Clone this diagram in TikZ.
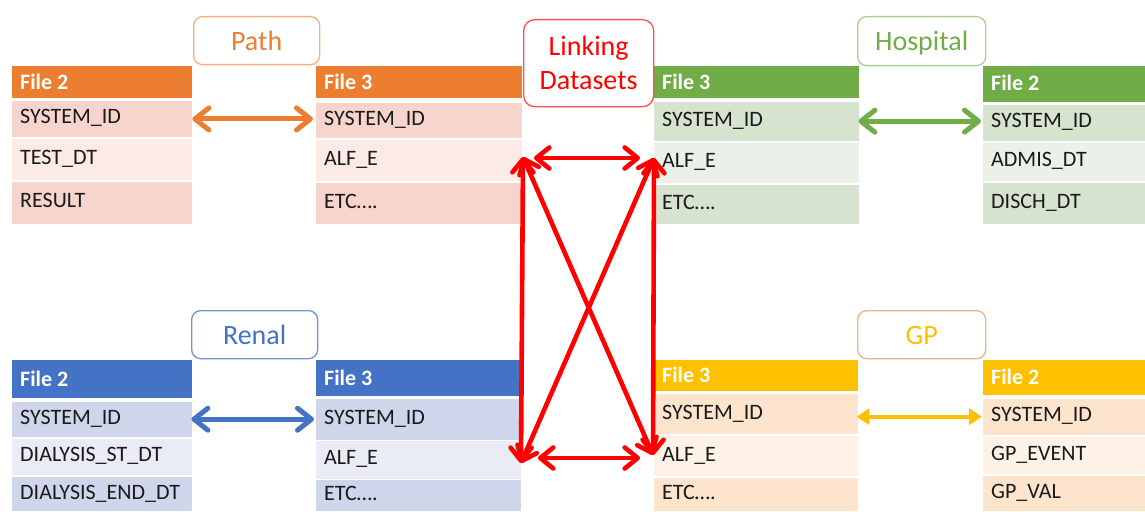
\documentclass[tikz,border=0pt]{standalone}
\usepackage{fontspec}
\setmainfont{Carlito}
\usetikzlibrary{arrows.meta}

\definecolor{orA}{HTML}{ED7D31}
\definecolor{orR1}{HTML}{F8D5CC}
\definecolor{orR2}{HTML}{FBEAE6}
\definecolor{orB}{HTML}{F4B183}
\definecolor{grA}{HTML}{70AD47}
\definecolor{grR1}{HTML}{D6E3CF}
\definecolor{grR2}{HTML}{EBF1E8}
\definecolor{grB}{HTML}{A9D18E}
\definecolor{blA}{HTML}{4472C4}
\definecolor{blR1}{HTML}{CFD5EA}
\definecolor{blR2}{HTML}{E9EBF5}
\definecolor{blB}{HTML}{6F93D3}
\definecolor{ylA}{HTML}{FFC000}
\definecolor{ylR1}{HTML}{FDE4CD}
\definecolor{ylR2}{HTML}{FEF2E7}
\definecolor{rdA}{HTML}{FF0000}
\definecolor{rdB}{HTML}{FF5050}
\definecolor{ink}{HTML}{1A1A1A}

% one filled table cell with its left-aligned text
\newcommand\tcell[8]{%
  \node[cellbg, fill=#2, minimum width=#5pt, minimum height=#6pt] (#1) at (#3,#4) {};
  \node[#7] (#1-txt) at (#1.west) {#8};}

\tikzset{
  cellbg/.style={anchor=north west, inner sep=0pt, draw=none},
  headtxt/.style={anchor=west, inner xsep=8pt, inner ysep=0pt, text=white,
    font=\fontsize{22}{26}\selectfont\bfseries, text height=14pt, text depth=0pt},
  rowtxt/.style={anchor=west, inner xsep=8pt, inner ysep=0pt, text=ink,
    font=\fontsize{22}{26}\selectfont, text height=14pt, text depth=4pt},
  titlebox/.style={anchor=north west, rounded corners=9pt, fill=white, line width=1.3pt,
    inner sep=0pt, font=\fontsize{28}{34}\selectfont, text height=19.5pt, text depth=0pt},
  barb/.style={line width=5pt, line cap=round, line join=round,
    {Straight Barb[length=14pt,width=22pt,line cap=round,line join=round]}-{Straight Barb[length=14pt,width=22pt,line cap=round,line join=round]}},
  tri/.style={line width=4pt,
    {Triangle[length=13pt,width=16pt]}-{Triangle[length=13pt,width=16pt]}},
  redlink/.style={draw=rdA, line width=4.6pt, line cap=round, line join=round,
    {Straight Barb[length=13pt,width=21pt,line cap=round,line join=round]}-{Straight Barb[length=13pt,width=21pt,line cap=round,line join=round]}},
}

\begin{document}
\begin{tikzpicture}[x=1pt,y=-1pt]
\useasboundingbox (0,0) rectangle (1145,511);

% ---------- Path ----------
\tcell{t1h}{orA}{12}{66}{180}{32}{headtxt}{File 2}
\tcell{t1r1}{orR1}{12}{101}{180}{35.5}{rowtxt}{SYSTEM\_ID}
\tcell{t1r2}{orR2}{12}{138.5}{180}{41.5}{rowtxt}{TEST\_DT}
\tcell{t1r3}{orR1}{12}{182}{180}{41.5}{rowtxt}{RESULT}

\tcell{t2h}{orA}{316}{66}{206}{32}{headtxt}{File 3}
\tcell{t2r1}{orR1}{316}{102.5}{206}{35}{rowtxt}{SYSTEM\_ID}
\tcell{t2r2}{orR2}{316}{140}{206}{40.5}{rowtxt}{ALF\_E}
\tcell{t2r3}{orR1}{316}{182.5}{206}{41}{rowtxt}{ETC….}

\node[titlebox, draw=orB, text=orA, minimum width=126pt, minimum height=48pt] (path) at (193,16) {Path};

% ---------- Hospital ----------
\tcell{t3h}{grA}{654}{66}{205}{32}{headtxt}{File 3}
\tcell{t3r1}{grR1}{654}{101.5}{205}{39}{rowtxt}{SYSTEM\_ID}
\tcell{t3r2}{grR2}{654}{142.5}{205}{40}{rowtxt}{ALF\_E}
\tcell{t3r3}{grR1}{654}{184.5}{205}{39}{rowtxt}{ETC….}

\tcell{t4h}{grA}{983}{66}{162}{35.5}{headtxt}{File 2}
\tcell{t4r1}{grR1}{983}{104.5}{162}{36}{rowtxt}{SYSTEM\_ID}
\tcell{t4r2}{grR2}{983}{142.5}{162}{38}{rowtxt}{ADMIS\_DT}
\tcell{t4r3}{grR1}{983}{182.5}{162}{41}{rowtxt}{DISCH\_DT}

\node[titlebox, draw=grB, text=grA, minimum width=128pt, minimum height=49pt] (hosp) at (857,16) {Hospital};

% ---------- Renal ----------
\tcell{t5h}{blA}{12}{360}{180}{38}{headtxt}{File 2}
\tcell{t5r1}{blR1}{12}{401.5}{180}{35}{rowtxt}{SYSTEM\_ID}
\tcell{t5r2}{blR2}{12}{438.5}{180}{36.5}{rowtxt}{DIALYSIS\_ST\_DT}
\tcell{t5r3}{blR1}{12}{477}{180}{34}{rowtxt}{DIALYSIS\_END\_DT}

\tcell{t6h}{blA}{316}{360}{205}{36}{headtxt}{File 3}
\tcell{t6r1}{blR1}{316}{398.5}{205}{41}{rowtxt}{SYSTEM\_ID}
\tcell{t6r2}{blR2}{316}{441}{205}{37.5}{rowtxt}{ALF\_E}
\tcell{t6r3}{blR1}{316}{480}{205}{31}{rowtxt}{ETC….}

\node[titlebox, draw=blB, text=blA, minimum width=126pt, minimum height=48pt] (renal) at (191,310) {Renal};

% ---------- GP ----------
\tcell{t7h}{ylA}{654}{360}{204}{31}{headtxt}{File 3}
\tcell{t7r1}{ylR1}{654}{394}{204}{40}{rowtxt}{SYSTEM\_ID}
\tcell{t7r2}{ylR2}{654}{436}{204}{40}{rowtxt}{ALF\_E}
\tcell{t7r3}{ylR1}{654}{477.5}{204}{33.5}{rowtxt}{ETC….}

\tcell{t8h}{ylA}{983}{360}{162}{35}{headtxt}{File 2}
\tcell{t8r1}{ylR1}{983}{398.5}{162}{36.5}{rowtxt}{SYSTEM\_ID}
\tcell{t8r2}{ylR2}{983}{436.5}{162}{37.5}{rowtxt}{GP\_EVENT}
\tcell{t8r3}{ylR1}{983}{476}{162}{35}{rowtxt}{GP\_VAL}

\node[titlebox, draw=orB, text=ylA, minimum width=128pt, minimum height=48pt] (gp) at (857,310) {GP};

% ---------- centre ----------
\node[titlebox, draw=rdB, text=rdA, align=center, minimum width=130pt, minimum height=87pt,
  rounded corners=11pt, text height=53pt, text depth=0pt] (link) at (523,19) {Linking\\Datasets};

% key links inside each source
\draw[barb, orA, shorten >=3pt] (t1r1.east) -- (t1r1.east -| t2r1.west);
\draw[barb, grA, shorten >=2pt, shorten <=-1pt] (t3r1.east) -- (t3r1.east -| t4r1.west);
\draw[barb, blA, shorten >=2pt, shorten <=-1pt] (t5r1.east) -- (t5r1.east -| t6r1.west);
\draw[tri, ylA, shorten >=1pt, shorten <=-2pt] ([yshift=-2.5pt]t7r1.east) -- ([yshift=-2.5pt]t7r1.east -| t8r1.west);

% ALF_E links between the sources
\coordinate (lt) at (523,157);
\coordinate (rt) at (654,158);
\coordinate (lb) at (521,463);
\coordinate (rb) at (653,455);
\coordinate (ht1) at (534,158);
\coordinate (ht2) at (640,158);
\coordinate (hb1) at (538,458);
\coordinate (hb2) at (640,458);

\draw[redlink] (ht1) -- (ht2);
\draw[redlink] (hb1) -- (hb2);
\draw[redlink] (lt) -- (lb);
\draw[redlink] (rt) -- (rb);
\draw[redlink] (lt) -- (rb);
\draw[redlink] (rt) -- (lb);
\end{tikzpicture}
\end{document}
